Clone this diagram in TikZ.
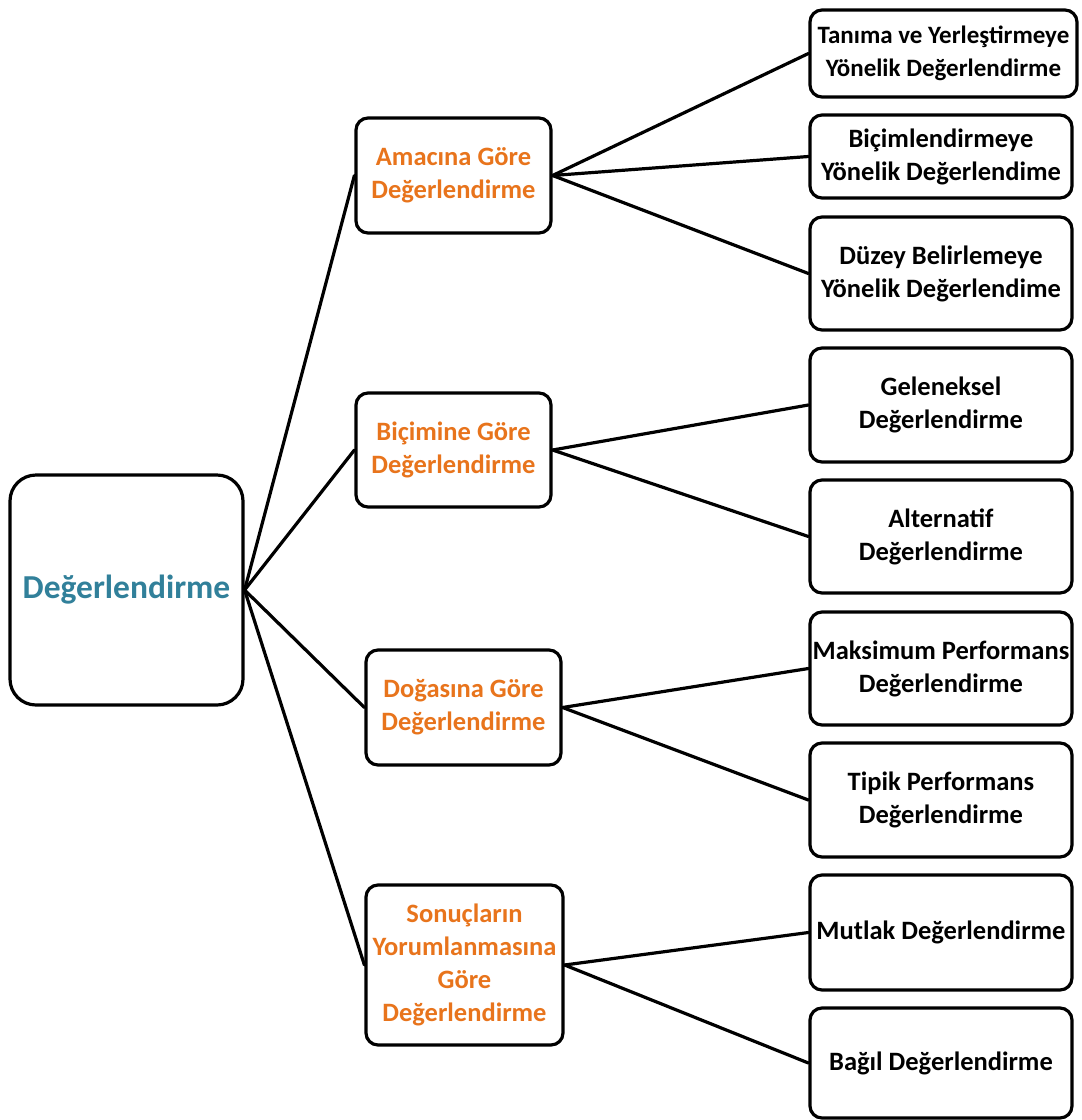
\documentclass[tikz,border=0pt]{standalone}
\usepackage{fontspec}
\setmainfont{Carlito}
\definecolor{roottext}{HTML}{31809A}
\definecolor{midtext}{HTML}{E8741C}
\tikzset{
  x=1pt, y=-1pt,
  basebox/.style={draw=black, line width=3.2pt, fill=white, align=center,
    inner sep=0pt, rounded corners=12pt,
    font=\fontsize{26.5}{33}\selectfont\bfseries},
  rootbox/.style={basebox, rounded corners=26pt, text=roottext,
    font=\fontsize{33.5}{40}\selectfont\bfseries},
  midbox/.style={basebox, text=midtext, minimum width=195pt},
  leafbox/.style={basebox, text=black, minimum width=262pt},
  link/.style={line width=3.2pt, line cap=round}
}
\begin{document}
\begin{tikzpicture}
\useasboundingbox (0,0) rectangle (1082,1120);
\fill[white] (0,0) rectangle (1082,1120);

% root
\node[rootbox, minimum width=233pt, minimum height=230pt] (root) at (126.5,590) {Değerlendirme};

% second level
\node[midbox, minimum height=115pt] (amac) at (453.5,175.5) {Amacına Göre\\Değerlendirme};
\node[midbox, minimum height=114pt] (bicim) at (453.5,450) {Biçimine Göre\\Değerlendirme};
\node[midbox, minimum height=115pt] (doga) at (463.5,707.5) {Doğasına Göre\\Değerlendirme};
\node[midbox, minimum width=197pt, minimum height=160pt] (sonuc) at (464.5,965) {Sonuçların\\Yorumlanmasına\\Göre\\Değerlendirme};

% leaves
\node[leafbox, minimum width=267pt, minimum height=87pt, font=\fontsize{25}{33}\selectfont\bfseries] (l1) at (943.5,53.5) {Tanıma ve Yerleştirmeye\\Yönelik Değerlendirme};
\node[leafbox, minimum height=83pt] (l2) at (941,156.5) {Biçimlendirmeye\\Yönelik Değerlendime};
\node[leafbox, minimum height=113pt] (l3) at (941,273.5) {Düzey Belirlemeye\\Yönelik Değerlendime};
\node[leafbox, minimum height=114pt] (l4) at (941,405) {Geleneksel\\Değerlendirme};
\node[leafbox, minimum height=113pt] (l5) at (941,536.5) {Alternatif\\Değerlendirme};
\node[leafbox, minimum height=113pt] (l6) at (941,668.5) {Maksimum Performans\\Değerlendirme};
\node[leafbox, minimum height=114pt] (l7) at (941,800) {Tipik Performans\\Değerlendirme};
\node[leafbox, minimum height=115pt] (l8) at (941,932.5) {Mutlak Değerlendirme};
\node[leafbox, minimum height=110pt] (l9) at (941,1063) {Bağıl Değerlendirme};

% connectors
\foreach \m in {amac,bicim,doga,sonuc}
  \draw[link] (root.east) -- (\m.west);
\foreach \l in {l1,l2,l3}
  \draw[link] (amac.east) -- (\l.west);
\foreach \l in {l4,l5}
  \draw[link] (bicim.east) -- (\l.west);
\foreach \l in {l6,l7}
  \draw[link] (doga.east) -- (\l.west);
\foreach \l in {l8,l9}
  \draw[link] (sonuc.east) -- (\l.west);
\end{tikzpicture}
\end{document}
